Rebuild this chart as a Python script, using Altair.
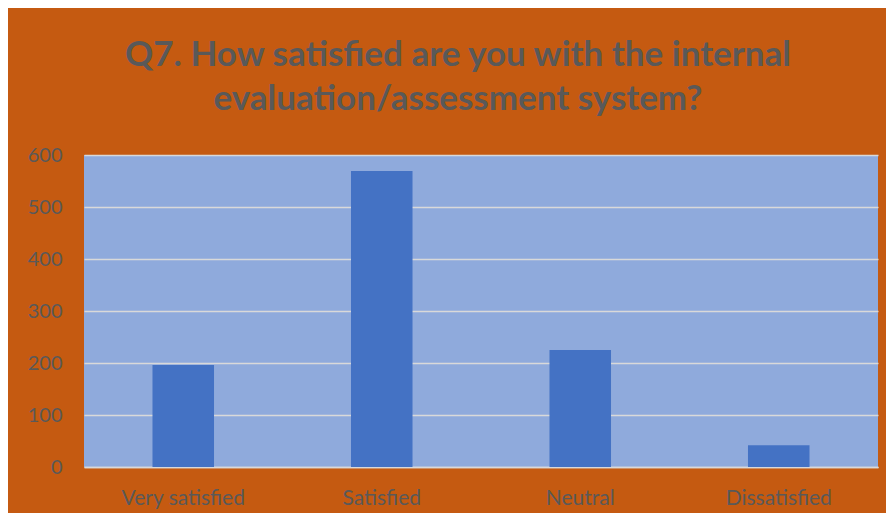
import altair as alt
import pandas as pd

categories = ["Very satisfied", "Satisfied", "Neutral", "Dissatisfied"]
counts = [196, 569, 225, 42]
title_lines = ["Q7. How satisfied are you with the internal", "evaluation/assessment system?"]

df = pd.DataFrame({"category": categories, "count": counts})

TEXT = "#595959"
FONT = "Lato"

chart = alt.Chart(df).mark_bar(color="#4472C4").encode(
    x=alt.X("category:N", sort=categories,
            scale=alt.Scale(paddingInner=0.69, paddingOuter=0.345),
            axis=alt.Axis(title=None, labelAngle=0, ticks=False, domain=True,
                          domainColor="#D9D9D9", domainWidth=1.5,
                          labelFontSize=21, labelColor=TEXT, labelFont=FONT,
                          labelPadding=20)),
    y=alt.Y("count:Q", scale=alt.Scale(domain=[0, 600], nice=False),
            axis=alt.Axis(title=None, values=[0, 100, 200, 300, 400, 500, 600],
                          ticks=False, domain=False, grid=True,
                          gridColor="#D9D9D9", gridWidth=1.5,
                          labelFontSize=20, labelColor=TEXT, labelFont=FONT,
                          labelPadding=22)),
).properties(
    width=794,
    height=312,
    background="#C55A11",
    padding={"left": 76, "top": 147, "right": 8, "bottom": 46},
    autosize=alt.AutoSizeParams(type="none"),
    title=alt.TitleParams(title_lines, font=FONT, fontSize=35, fontWeight="bold",
                          color=TEXT, anchor="middle", lineHeight=44,
                          offset=28, dx=-23),
).configure_view(fill="#8FAADC", stroke=None)

chart.save("out.html", embed_options={"renderer": "svg", "actions": False})
